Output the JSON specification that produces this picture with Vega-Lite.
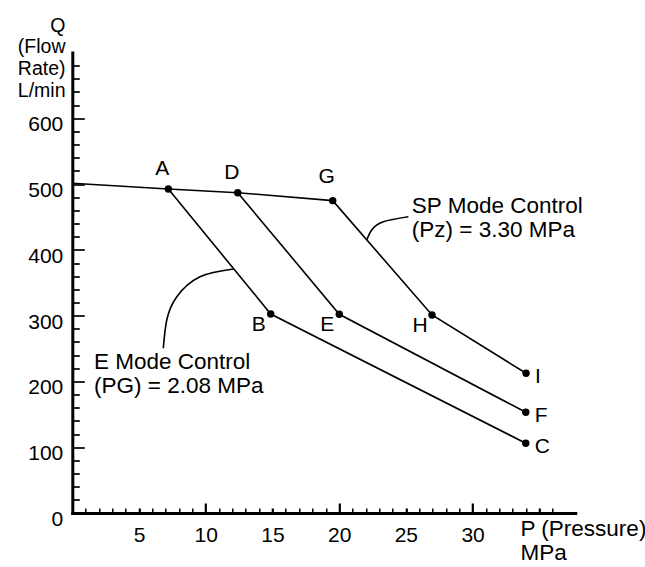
{
  "$schema": "https://vega.github.io/schema/vega-lite/v6.json",
  "width": 503,
  "height": 460.5,
  "autosize": {"type": "none"},
  "padding": {"left": 72.3, "top": 52.5, "right": 69.7, "bottom": 54},
  "background": "white",
  "config": {
    "view": {"stroke": null},
    "font": "Liberation Sans",
    "text": {"font": "Liberation Sans", "color": "black"}
  },
  "datasets": {
    "lines": [
      {"seg": "top", "ord": 0, "p": 0, "q": 501.2},
      {"seg": "top", "ord": 1, "p": 7.2, "q": 492.5},
      {"seg": "top", "ord": 2, "p": 12.4, "q": 486.9},
      {"seg": "top", "ord": 3, "p": 19.52, "q": 474.8},
      {"seg": "ABC", "ord": 0, "p": 7.2, "q": 492.5},
      {"seg": "ABC", "ord": 1, "p": 14.87, "q": 302.5},
      {"seg": "ABC", "ord": 2, "p": 33.99, "q": 106},
      {"seg": "DEF", "ord": 0, "p": 12.4, "q": 486.9},
      {"seg": "DEF", "ord": 1, "p": 20.01, "q": 302.1},
      {"seg": "DEF", "ord": 2, "p": 33.99, "q": 153.1},
      {"seg": "GHI", "ord": 0, "p": 19.52, "q": 474.8},
      {"seg": "GHI", "ord": 1, "p": 26.96, "q": 301},
      {"seg": "GHI", "ord": 2, "p": 34.01, "q": 212.4}
    ],
    "points": [
      {"name": "A", "pos": "top", "p": 7.2, "q": 492.5},
      {"name": "D", "pos": "top", "p": 12.4, "q": 486.9},
      {"name": "G", "pos": "topG", "p": 19.52, "q": 474.8},
      {"name": "B", "pos": "below", "p": 14.87, "q": 302.5},
      {"name": "E", "pos": "below", "p": 20.01, "q": 302.1},
      {"name": "H", "pos": "below", "p": 26.96, "q": 301},
      {"name": "C", "pos": "right", "p": 33.99, "q": 106},
      {"name": "F", "pos": "right", "p": 33.99, "q": 153.1},
      {"name": "I", "pos": "right", "p": 34.01, "q": 212.4}
    ],
    "leaders": [
      {"seg": "E", "ord": 0, "p": 12.07, "q": 371},
      {"seg": "E", "ord": 1, "p": 9.57, "q": 359.2},
      {"seg": "E", "ord": 2, "p": 7.83, "q": 328.8},
      {"seg": "E", "ord": 3, "p": 7.08, "q": 293.4},
      {"seg": "E", "ord": 4, "p": 6.82, "q": 250.4},
      {"seg": "SP", "ord": 0, "p": 25.19, "q": 450.4},
      {"seg": "SP", "ord": 1, "p": 23.31, "q": 442.8},
      {"seg": "SP", "ord": 2, "p": 22.44, "q": 430.2},
      {"seg": "SP", "ord": 3, "p": 22.07, "q": 415.2}
    ],
    "notes": [
      {"p": 25.45, "q": 456.5, "txt": "SP Mode Control\n(Pz) = 3.30 MPa"},
      {"p": 1.63, "q": 218.9, "txt": "E Mode Control\n(PG) = 2.08 MPa"}
    ]
  },
  "encoding": {
    "x": {
      "field": "p",
      "type": "quantitative",
      "scale": {"domain": [0, 37.7], "nice": false, "zero": false},
      "axis": {
        "values": [1,2,3,4,5,6,7,8,9,10,11,12,13,14,15,16,17,18,19,20,21,22,23,24,25,26,27,28,29,30,31,32,33,34,35,36],
        "labelExpr": "datum.value % 5 === 0 && datum.value <= 30 ? datum.label : ''",
        "tickSize": {"condition": {"test": "datum.value % 10 === 0", "value": -10}, "value": -5},
        "tickWidth": {"condition": {"test": "datum.value % 5 === 0", "value": 2.2}, "value": 1.5},
        "tickColor": "black",
        "domainColor": "black",
        "domainWidth": 3,
        "domainCap": "square",
        "grid": false,
        "labelFontSize": 21,
        "labelColor": "black",
        "labelPadding": {"condition": {"test": "datum.value % 10 === 0", "value": 21.5}, "value": 16.5},
        "labelFlush": false,
        "labelOverlap": false,
        "labelBound": false,
        "title": ["P (Pressure)", "MPa"],
        "titleX": 447.7,
        "titleY": 22,
        "titleAlign": "left",
        "titleBaseline": "alphabetic",
        "titleFontSize": 22.5,
        "titleFontWeight": "normal",
        "titleLineHeight": 24,
        "titleColor": "black"
      }
    },
    "y": {
      "field": "q",
      "type": "quantitative",
      "scale": {"domain": [0, 700], "nice": false, "zero": false},
      "axis": {
        "values": [0,20,40,60,80,100,120,140,160,180,200,220,240,260,280,300,320,340,360,380,400,420,440,460,480,500,520,540,560,580,600,620,640,660,680],
        "labelExpr": "datum.value % 100 === 0 && datum.value <= 600 ? datum.label : ''",
        "tickSize": {"condition": {"test": "datum.value % 100 === 0", "value": -12}, "value": -7},
        "tickWidth": 1.7,
        "tickColor": "black",
        "domainColor": "black",
        "domainWidth": 3,
        "domainCap": "square",
        "grid": false,
        "labelFontSize": 21,
        "labelColor": "black",
        "labelPadding": {"condition": {"test": "datum.value % 100 === 0", "value": 21.5}, "value": 16.5},
        "labelOffset": 6.5,
        "labelFlush": false,
        "labelOverlap": false,
        "labelBound": false,
        "title": ["Q", "(Flow", "Rate)", "L/min"],
        "titleAngle": 0,
        "titleX": -7.3,
        "titleY": -21.5,
        "titleAlign": "right",
        "titleBaseline": "alphabetic",
        "titleFontSize": 19.5,
        "titleFontWeight": "normal",
        "titleLineHeight": 21.7,
        "titleColor": "black"
      }
    }
  },
  "layer": [
    {
      "data": {"name": "lines"},
      "mark": {"type": "line", "color": "black", "strokeWidth": 1.6},
      "encoding": {
        "detail": {"field": "seg", "type": "nominal"},
        "order": {"field": "ord", "type": "quantitative"}
      }
    },
    {
      "data": {"name": "leaders"},
      "mark": {"type": "line", "color": "black", "strokeWidth": 1.6, "interpolate": "natural"},
      "encoding": {
        "detail": {"field": "seg", "type": "nominal"},
        "order": {"field": "ord", "type": "quantitative"}
      }
    },
    {
      "data": {"name": "points"},
      "mark": {"type": "point", "filled": true, "color": "black", "opacity": 1, "size": 55}
    },
    {
      "data": {"name": "points"},
      "transform": [{"filter": "datum.pos === 'top'"}],
      "mark": {"type": "text", "fontSize": 21, "align": "center", "baseline": "middle", "dx": -6, "dy": -20},
      "encoding": {"text": {"field": "name", "type": "nominal"}}
    },
    {
      "data": {"name": "points"},
      "transform": [{"filter": "datum.pos === 'topG'"}],
      "mark": {"type": "text", "fontSize": 21, "align": "center", "baseline": "middle", "dx": -6, "dy": -24},
      "encoding": {"text": {"field": "name", "type": "nominal"}}
    },
    {
      "data": {"name": "points"},
      "transform": [{"filter": "datum.pos === 'below'"}],
      "mark": {"type": "text", "fontSize": 21, "align": "center", "baseline": "middle", "dx": -12, "dy": 11},
      "encoding": {"text": {"field": "name", "type": "nominal"}}
    },
    {
      "data": {"name": "points"},
      "transform": [{"filter": "datum.pos === 'right'"}],
      "mark": {"type": "text", "fontSize": 21, "align": "left", "baseline": "middle", "dx": 9, "dy": 4},
      "encoding": {"text": {"field": "name", "type": "nominal"}}
    },
    {
      "data": {"name": "notes"},
      "mark": {"type": "text", "fontSize": 22.5, "align": "left", "baseline": "alphabetic", "lineBreak": "\n", "lineHeight": 24.5},
      "encoding": {"text": {"field": "txt", "type": "nominal"}}
    }
  ]
}
